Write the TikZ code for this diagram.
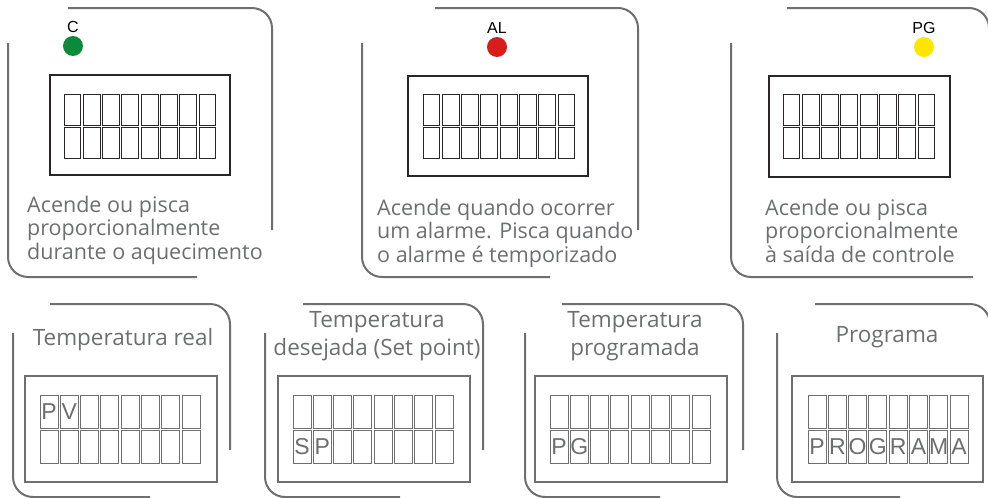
\documentclass[tikz,border=0pt]{standalone}
\usepackage{fontspec}
\setmainfont{Open Sans}
\newfontfamily\arialfont{Liberation Sans}
\definecolor{framegray}{HTML}{6F6F6F}
\definecolor{infogray}{HTML}{6D6E70}
\definecolor{lcddark}{HTML}{2A2627}
\definecolor{lcdgray}{HTML}{6F6F6F}
\definecolor{ledgreen}{HTML}{0B8A3B}
\definecolor{ledred}{HTML}{D71E1A}
\definecolor{ledyellow}{HTML}{FFE600}

\begin{document}
\begin{tikzpicture}[x=1pt,y=-1pt,
	frame/.style={draw=framegray,line width=2pt,rounded corners=20pt},
	lcd/.style={draw=lcddark,line width=1.5pt},
	lcdlight/.style={draw=lcdgray,line width=1.5pt},
	cell/.style={draw=lcddark,line width=0.9pt},
	celllight/.style={draw=lcdgray,line width=0.9pt},
	info/.style={text=infogray,font=\fontsize{21.5}{23.5}\selectfont,align=left,anchor=base west,inner sep=0pt},
	title/.style={text=infogray,font=\fontsize{22.5}{28}\selectfont,align=center,anchor=base,inner sep=0pt},
	ledlabel/.style={font=\arialfont\fontsize{16}{16}\selectfont,anchor=base,inner sep=0pt},
	digit/.style={text=infogray,font=\arialfont\fontsize{23}{23}\selectfont,inner sep=0pt}]
	\useasboundingbox (0,0) rectangle (988,498);

	% top row: LED panels
	\draw[frame] (68,8) -- (272,8) -- (272,230);
	\draw[frame] (8,43) -- (8,277) -- (197,277);
	\draw[frame] (435,8) -- (638,8) -- (638,230);
	\draw[frame] (362,43) -- (362,277) -- (550,277);
	\draw[frame] (787,8) -- (989,8) -- (989,230);
	\draw[frame] (731,43) -- (731,277) -- (973,277);

	\node[ledlabel] (labC) at (73,32) {C};
	\fill[ledgreen] (73,46) circle (10);
	\node[ledlabel] (labAL) at (497,33) {AL};
	\fill[ledred] (497,47) circle (10);
	\node[ledlabel] (labPG) at (924,33) {PG};
	\fill[ledyellow] (924,47) circle (10);

	\draw[lcd] (50,75) rectangle (230,175);
	\draw[lcd] (408,76) rectangle (588,176);
	\draw[lcd] (769,76) rectangle (950,177);
	\foreach \cx in {64,423,783}
		\foreach \i in {0,...,7}
			\foreach \ry in {94,127}
				\draw[cell] ({\cx+19.3*\i},\ry) rectangle +(16.8,31);

	% base anchor sits on the last line
	\node[info] (infoC) at (27,259) {Acende ou pisca\\proporcionalmente\\durante o aquecimento};
	\node[info] (infoAL) at (377,262) {Acende quando ocorrer\\um alarme. Pisca quando\\o alarme é temporizado};
	\node[info] (infoPG) at (765,262) {Acende ou pisca\\proporcionalmente\\à saída de controle};

	% bottom row: display modes
	\draw[frame] (50,304) -- (230,304) -- (230,450);
	\draw[frame] (13,333) -- (13,497) -- (150,497);
	\draw[frame] (303,304) -- (483,304) -- (483,450);
	\draw[frame] (265,333) -- (265,497) -- (400,497);
	\draw[frame] (562,304) -- (743,304) -- (743,450);
	\draw[frame] (525,333) -- (525,497) -- (660,497);
	\draw[frame] (815,304) -- (990,304) -- (990,450);
	\draw[frame] (777,333) -- (777,497) -- (900,497);

	\node[title] (titPV) at (123,345) {Temperatura real};
	\node[title] (titSP) at (377,355) {Temperatura\\desejada (Set point)};
	\node[title] (titPG) at (635,355) {Temperatura\\programada};
	\node[title] (titPR) at (887,342) {Programa};

	\draw[lcdlight] (25,376) rectangle (217,482);
	\draw[lcdlight] (278,376) rectangle (470,482);
	\draw[lcdlight] (535,376) rectangle (727,482);
	\draw[lcdlight] (792,376) rectangle (983,482);
	\foreach \cx in {40,293,550,808}
		\foreach \i in {0,...,7}
			\foreach \ry in {395,430}
				\draw[celllight] ({\cx+20.3*\i},\ry) rectangle +(18,33);

	\node[digit] (pv0) at (49,411.5) {P};
	\node[digit] (pv1) at (69.3,411.5) {V};
	\node[digit] (sp0) at (302,446.5) {S};
	\node[digit] (sp1) at (322.3,446.5) {P};
	\node[digit] (pg0) at (559,446.5) {P};
	\node[digit] (pg1) at (579.3,446.5) {G};
	\foreach \ch [count=\i from 0] in {P,R,O,G,R,A,M,A}
		\node[digit] (prog\i) at ({817+20.3*\i},446.5) {\ch};
\end{tikzpicture}
\end{document}
